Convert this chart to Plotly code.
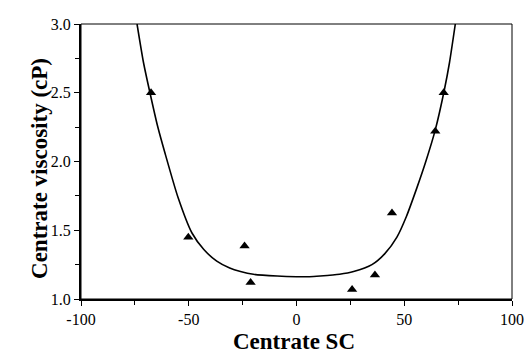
import plotly.graph_objects as go

# Measured data points (triangles)
sc_points = [-67.5, -50.2, -24.1, -21.3, 25.8, 36.4, 44.3, 64.4, 68.3]
visc_points = [2.50, 1.45, 1.386, 1.12, 1.07, 1.175, 1.626, 2.22, 2.50]

# Fitted curve
sc_curve = [-74, -71, -68, -64.5, -61, -55, -48.5, -43, -37, -31, -26, -20, -9, 0, 6, 11, 20, 26.5, 35, 41, 46.6, 51, 55.9, 60, 64.4, 68.6, 71, 73.7]
visc_curve = [3.0, 2.72, 2.5, 2.26, 2.06, 1.74, 1.48, 1.36, 1.275, 1.225, 1.2, 1.18, 1.167, 1.162, 1.162, 1.167, 1.18, 1.2, 1.25, 1.33, 1.45, 1.6, 1.81, 2.0, 2.23, 2.52, 2.72, 3.0]

x_ticks = [-100, -50, 0, 50, 100]
y_ticks = [1.0, 1.5, 2.0, 2.5, 3.0]

x_title = "Centrate SC"
y_title = "Centrate viscosity (cP)"

fig = go.Figure()
fig.add_trace(go.Scatter(x=sc_curve, y=visc_curve, mode="lines",
                         line=dict(color="black", width=1.6, shape="spline", smoothing=0.6),
                         hoverinfo="skip", showlegend=False))
fig.add_trace(go.Scatter(x=sc_points, y=visc_points, mode="markers",
                         marker=dict(symbol="triangle-up", size=9, color="black"),
                         showlegend=False))

fig.update_layout(
    width=528, height=353,
    margin=dict(l=81, r=16, t=24, b=54),
    paper_bgcolor="white", plot_bgcolor="white",
    font=dict(family="Liberation Serif", color="black", size=16),
    shapes=[dict(type="rect", xref="paper", yref="paper", x0=0, y0=0, x1=1, y1=1,
                 line=dict(color="black", width=1))],
    annotations=[
        dict(text=f"<b>{x_title}</b>", xref="paper", yref="paper", x=0.494, y=-0.156,
             xanchor="center", yanchor="middle", showarrow=False,
             font=dict(family="Liberation Serif", size=23, color="black")),
        dict(text=f"<b>{y_title}</b>", xref="paper", yref="paper", x=-0.095, y=0.473,
             xanchor="center", yanchor="middle", showarrow=False, textangle=-90,
             font=dict(family="Liberation Serif", size=23, color="black")),
    ],
)
fig.update_xaxes(
    range=[-100, 100], tickvals=x_ticks, ticktext=[str(v) for v in x_ticks],
    automargin=False,
    showgrid=False, zeroline=False, showline=True, linecolor="black", linewidth=2,
    ticks="outside", ticklen=5, tickwidth=1.2, tickcolor="black",
    minor=dict(dtick=25, ticks="outside", ticklen=4, tickcolor="black", showgrid=False),
    tickfont=dict(family="Liberation Serif", size=16),
)
fig.update_yaxes(
    range=[1.0, 3.0], tickvals=y_ticks, ticktext=[f"{v:.1f}" for v in y_ticks],
    automargin=False,
    showgrid=False, zeroline=False, showline=True, linecolor="black", linewidth=2,
    ticks="outside", ticklen=5, tickwidth=1.2, tickcolor="black",
    minor=dict(dtick=0.25, ticks="outside", ticklen=4, tickcolor="black", showgrid=False),
    tickfont=dict(family="Liberation Serif", size=16),
)

fig.write_html("out.html", config={"displayModeBar": False},
               post_script="document.body.style.margin='0px';document.body.style.padding='0px';")
